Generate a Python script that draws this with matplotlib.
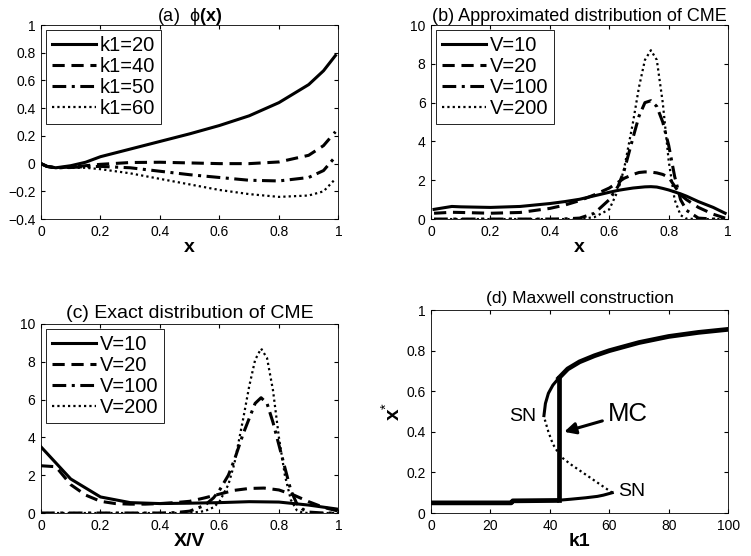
import numpy as np
import matplotlib
matplotlib.use("Agg")
import matplotlib.pyplot as plt

plt.rcParams['font.family'] = ['Liberation Sans', 'DejaVu Sans']
plt.rcParams['mathtext.fontset'] = 'custom'
plt.rcParams['mathtext.rm'] = 'Liberation Sans'
plt.rcParams['mathtext.bf'] = 'Liberation Sans:bold'

# (a) phi(x)
xa = [0.0, 0.02, 0.05, 0.1, 0.15, 0.2, 0.3, 0.4, 0.5, 0.6, 0.7, 0.8, 0.9, 0.95, 0.99]
phi_k20 = [0.0, -0.02, -0.03, -0.015, 0.01, 0.05, 0.105, 0.16, 0.215, 0.275, 0.345, 0.44, 0.57, 0.67, 0.78]
phi_k40 = [0.0, -0.02, -0.03, -0.025, -0.015, -0.005, 0.008, 0.01, 0.005, 0.0, 0.0, 0.012, 0.06, 0.13, 0.23]
phi_k50 = [0.0, -0.02, -0.03, -0.028, -0.022, -0.02, -0.03, -0.055, -0.08, -0.1, -0.12, -0.125, -0.1, -0.05, 0.05]
phi_k60 = [0.0, -0.02, -0.03, -0.03, -0.03, -0.04, -0.07, -0.11, -0.15, -0.19, -0.22, -0.24, -0.23, -0.2, -0.11]

# (b) approximated distribution
xb = [0.01, 0.07, 0.1, 0.2, 0.3, 0.4, 0.45, 0.5, 0.55, 0.6, 0.63, 0.65, 0.68, 0.7, 0.72, 0.74,
      0.76, 0.78, 0.8, 0.82, 0.84, 0.86, 0.9, 0.95, 0.99]
pb_v10 = [0.5, 0.65, 0.63, 0.6, 0.65, 0.8, 0.9, 1.02, 1.2, 1.38, 1.48, 1.53, 1.6, 1.63, 1.66, 1.67,
          1.65, 1.58, 1.5, 1.4, 1.3, 1.18, 0.9, 0.6, 0.3]
pb_v20 = [0.3, 0.35, 0.34, 0.3, 0.34, 0.55, 0.72, 0.95, 1.25, 1.6, 1.9, 2.1, 2.3, 2.4, 2.43, 2.42,
          2.38, 2.3, 2.15, 1.7, 1.25, 1.0, 0.6, 0.25, 0.05]
pb_v100 = [0.0, 0.0, 0.0, 0.0, 0.0, 0.0, 0.01, 0.05, 0.3, 1.0, 1.7, 2.5, 4.2, 5.3, 6.0, 6.1,
           5.8, 5.0, 3.8, 2.2, 1.0, 0.45, 0.05, 0.0, 0.0]
pb_v200 = [0.0, 0.0, 0.0, 0.0, 0.0, 0.0, 0.0, 0.0, 0.1, 0.5, 1.5, 2.6, 5.0, 6.8, 8.2, 8.7,
           8.2, 6.0, 3.0, 1.0, 0.2, 0.02, 0.0, 0.0, 0.0]

# (c) exact distribution
xc_v10 = [0.0, 0.1, 0.2, 0.3, 0.4, 0.5, 0.6, 0.7, 0.8, 0.9, 1.0]
pc_v10 = [3.5, 1.8, 0.85, 0.55, 0.5, 0.52, 0.55, 0.6, 0.58, 0.42, 0.2]
xc_v20 = [0.0, 0.05, 0.1, 0.15, 0.2, 0.25, 0.3, 0.35, 0.4, 0.45, 0.5, 0.55, 0.6, 0.65,
          0.7, 0.75, 0.8, 0.85, 0.9, 0.95, 1.0]
pc_v20 = [2.5, 2.45, 1.5, 0.95, 0.62, 0.5, 0.47, 0.47, 0.5, 0.55, 0.62, 0.8, 1.0, 1.2,
          1.3, 1.32, 1.22, 0.95, 0.6, 0.3, 0.1]
xc_big = [0.0, 0.1, 0.2, 0.3, 0.4, 0.45, 0.5, 0.55, 0.58, 0.6, 0.63, 0.65, 0.68, 0.7, 0.72, 0.74,
          0.76, 0.78, 0.8, 0.82, 0.84, 0.86, 0.88, 0.9, 0.95, 1.0]
pc_v100 = [0.0, 0.0, 0.0, 0.0, 0.0, 0.02, 0.1, 0.4, 0.8, 1.2, 2.0, 2.8, 4.2, 5.0, 5.8, 6.1,
           5.8, 4.8, 3.6, 2.4, 1.2, 0.5, 0.2, 0.05, 0.0, 0.0]
pc_v200 = [0.0, 0.0, 0.0, 0.0, 0.0, 0.0, 0.0, 0.1, 0.3, 0.6, 1.5, 2.6, 5.0, 6.7, 8.1, 8.7,
           8.2, 6.5, 4.0, 2.0, 0.7, 0.15, 0.02, 0.0, 0.0, 0.0]

# (d) Maxwell construction
k_low_a = [0, 27, 27.5, 43]
x_low_a = [0.05, 0.05, 0.06, 0.062]
k_low_b = [43, 47, 52, 56, 58, 61]
x_low_b = [0.063, 0.068, 0.075, 0.082, 0.088, 0.10]
k_unst = [61, 57, 52, 47, 43.5, 41, 39.5, 38.3]
x_unst = [0.10, 0.14, 0.19, 0.24, 0.28, 0.34, 0.40, 0.46]
k_up_a = [38, 38.5, 39.5, 41, 43]
x_up_a = [0.48, 0.54, 0.59, 0.63, 0.665]
k_up_b = [43, 46, 50, 55, 60, 65, 70, 80, 90, 100]
x_up_b = [0.665, 0.71, 0.745, 0.775, 0.80, 0.82, 0.84, 0.87, 0.89, 0.905]
k_mc = 43
x_mc = [0.062, 0.665]

lw = 2.2
dash = (0, (4, 2.2))
dashdot = (0, (4.5, 1.8, 1, 1.8))
dot = (0, (1, 1.4))
tick_fs = 10


def style(ax):
    ax.tick_params(direction='in', top=True, right=True, labelsize=tick_fs, length=3, pad=4)
    for s in ax.spines.values():
        s.set_linewidth(0.6)


fig = plt.figure(figsize=(7.51, 5.56), dpi=100)
ax1 = fig.add_axes([0.0546, 0.606, 0.396, 0.349])
ax2 = fig.add_axes([0.574, 0.606, 0.3955, 0.349])
ax3 = fig.add_axes([0.0546, 0.0773, 0.396, 0.340])
ax4 = fig.add_axes([0.574, 0.0773, 0.3955, 0.365])

# (a)
ax1.plot(xa, phi_k20, color='k', lw=lw, ls='-', label='k1=20')
ax1.plot(xa, phi_k40, color='k', lw=lw, ls=dash, label='k1=40')
ax1.plot(xa, phi_k50, color='k', lw=lw, ls=dashdot, label='k1=50')
ax1.plot(xa, phi_k60, color='k', lw=1.6, ls=dot, label='k1=60')
ax1.set_xlim(0, 1)
ax1.set_ylim(-0.4, 1)
ax1.set_xticks([0, 0.2, 0.4, 0.6, 0.8, 1])
ax1.set_xticklabels(['0', '0.2', '0.4', '0.6', '0.8', '1'])
ax1.set_yticks([-0.4, -0.2, 0, 0.2, 0.4, 0.6, 0.8, 1])
ax1.set_yticklabels(['\u22120.4', '\u22120.2', '0', '0.2', '0.4', '0.6', '0.8', '1'])
ax1.set_xlabel('x', fontsize=14, fontweight='bold', labelpad=0)
ax1.set_title('(a)  \u03d5' + r'$\mathbf{(x)}$', fontsize=13, pad=3)

# (b)
ax2.plot(xb, pb_v10, color='k', lw=lw, ls='-', label='V=10')
ax2.plot(xb, pb_v20, color='k', lw=lw, ls=dash, label='V=20')
ax2.plot(xb, pb_v100, color='k', lw=lw, ls=dashdot, label='V=100')
ax2.plot(xb, pb_v200, color='k', lw=1.6, ls=dot, label='V=200')
ax2.set_xlim(0, 1)
ax2.set_ylim(0, 10)
ax2.set_xticks([0, 0.2, 0.4, 0.6, 0.8, 1])
ax2.set_xticklabels(['0', '0.2', '0.4', '0.6', '0.8', '1'])
ax2.set_yticks([0, 2, 4, 6, 8, 10])
ax2.set_xlabel('x', fontsize=14, fontweight='bold', labelpad=0)
ax2.set_title('(b) Approximated distribution of CME', fontsize=13, pad=3)

# (c)
ax3.plot(xc_v10, pc_v10, color='k', lw=lw, ls='-', label='V=10')
ax3.plot(xc_v20, pc_v20, color='k', lw=lw, ls=dash, label='V=20')
ax3.plot(xc_big, pc_v100, color='k', lw=lw, ls=dashdot, label='V=100')
ax3.plot(xc_big, pc_v200, color='k', lw=1.6, ls=dot, label='V=200')
ax3.set_xlim(0, 1)
ax3.set_ylim(0, 10)
ax3.set_xticks([0, 0.2, 0.4, 0.6, 0.8, 1])
ax3.set_xticklabels(['0', '0.2', '0.4', '0.6', '0.8', '1'])
ax3.set_yticks([0, 2, 4, 6, 8, 10])
ax3.set_xlabel('X/V', fontsize=14, fontweight='bold', labelpad=0)
ax3.set_title('(c) Exact distribution of CME', fontsize=14, pad=4)

# (d)
ax4.plot(k_low_a, x_low_a, color='k', lw=3.4, solid_capstyle='butt')
ax4.plot(k_low_b, x_low_b, color='k', lw=2.2)
ax4.plot(k_unst, x_unst, color='k', lw=1.6, ls=dot)
ax4.plot(k_up_a, x_up_a, color='k', lw=2.2)
ax4.plot(k_up_b, x_up_b, color='k', lw=3.4)
ax4.plot([k_mc, k_mc], x_mc, color='k', lw=3.4)
ax4.text(35.5, 0.475, 'SN', fontsize=14, ha='right', va='center')
ax4.text(63, 0.105, 'SN', fontsize=14, ha='left', va='center')
ax4.annotate('MC', xy=(44.8, 0.40), xytext=(59.5, 0.49), fontsize=18.5, va='center', ha='left',
             arrowprops=dict(arrowstyle='-|>', color='k', lw=2.2, mutation_scale=17,
                             shrinkA=2, shrinkB=0))
ax4.set_xlim(0, 100)
ax4.set_ylim(0, 1)
ax4.set_xticks([0, 20, 40, 60, 80, 100])
ax4.set_yticks([0, 0.2, 0.4, 0.6, 0.8, 1])
ax4.set_yticklabels(['0', '0.2', '0.4', '0.6', '0.8', '1'])
ax4.set_xlabel('k1', fontsize=14, fontweight='bold', labelpad=0)
ax4.set_ylabel(r'$\mathbf{x}^{*}$', fontsize=15, labelpad=2)
ax4.set_title('(d) Maxwell construction', fontsize=12.5, pad=5)

for ax in (ax1, ax2, ax3, ax4):
    style(ax)

for ax in (ax1, ax2, ax3):
    leg = ax.legend(loc='upper left', fontsize=14.5, handlelength=2.2, handletextpad=0.15,
                    labelspacing=0.1, borderpad=0.3, borderaxespad=0.25, fancybox=False,
                    framealpha=1)
    leg.get_frame().set_edgecolor('k')
    leg.get_frame().set_linewidth(0.6)

fig.savefig('out.png', dpi=100)
